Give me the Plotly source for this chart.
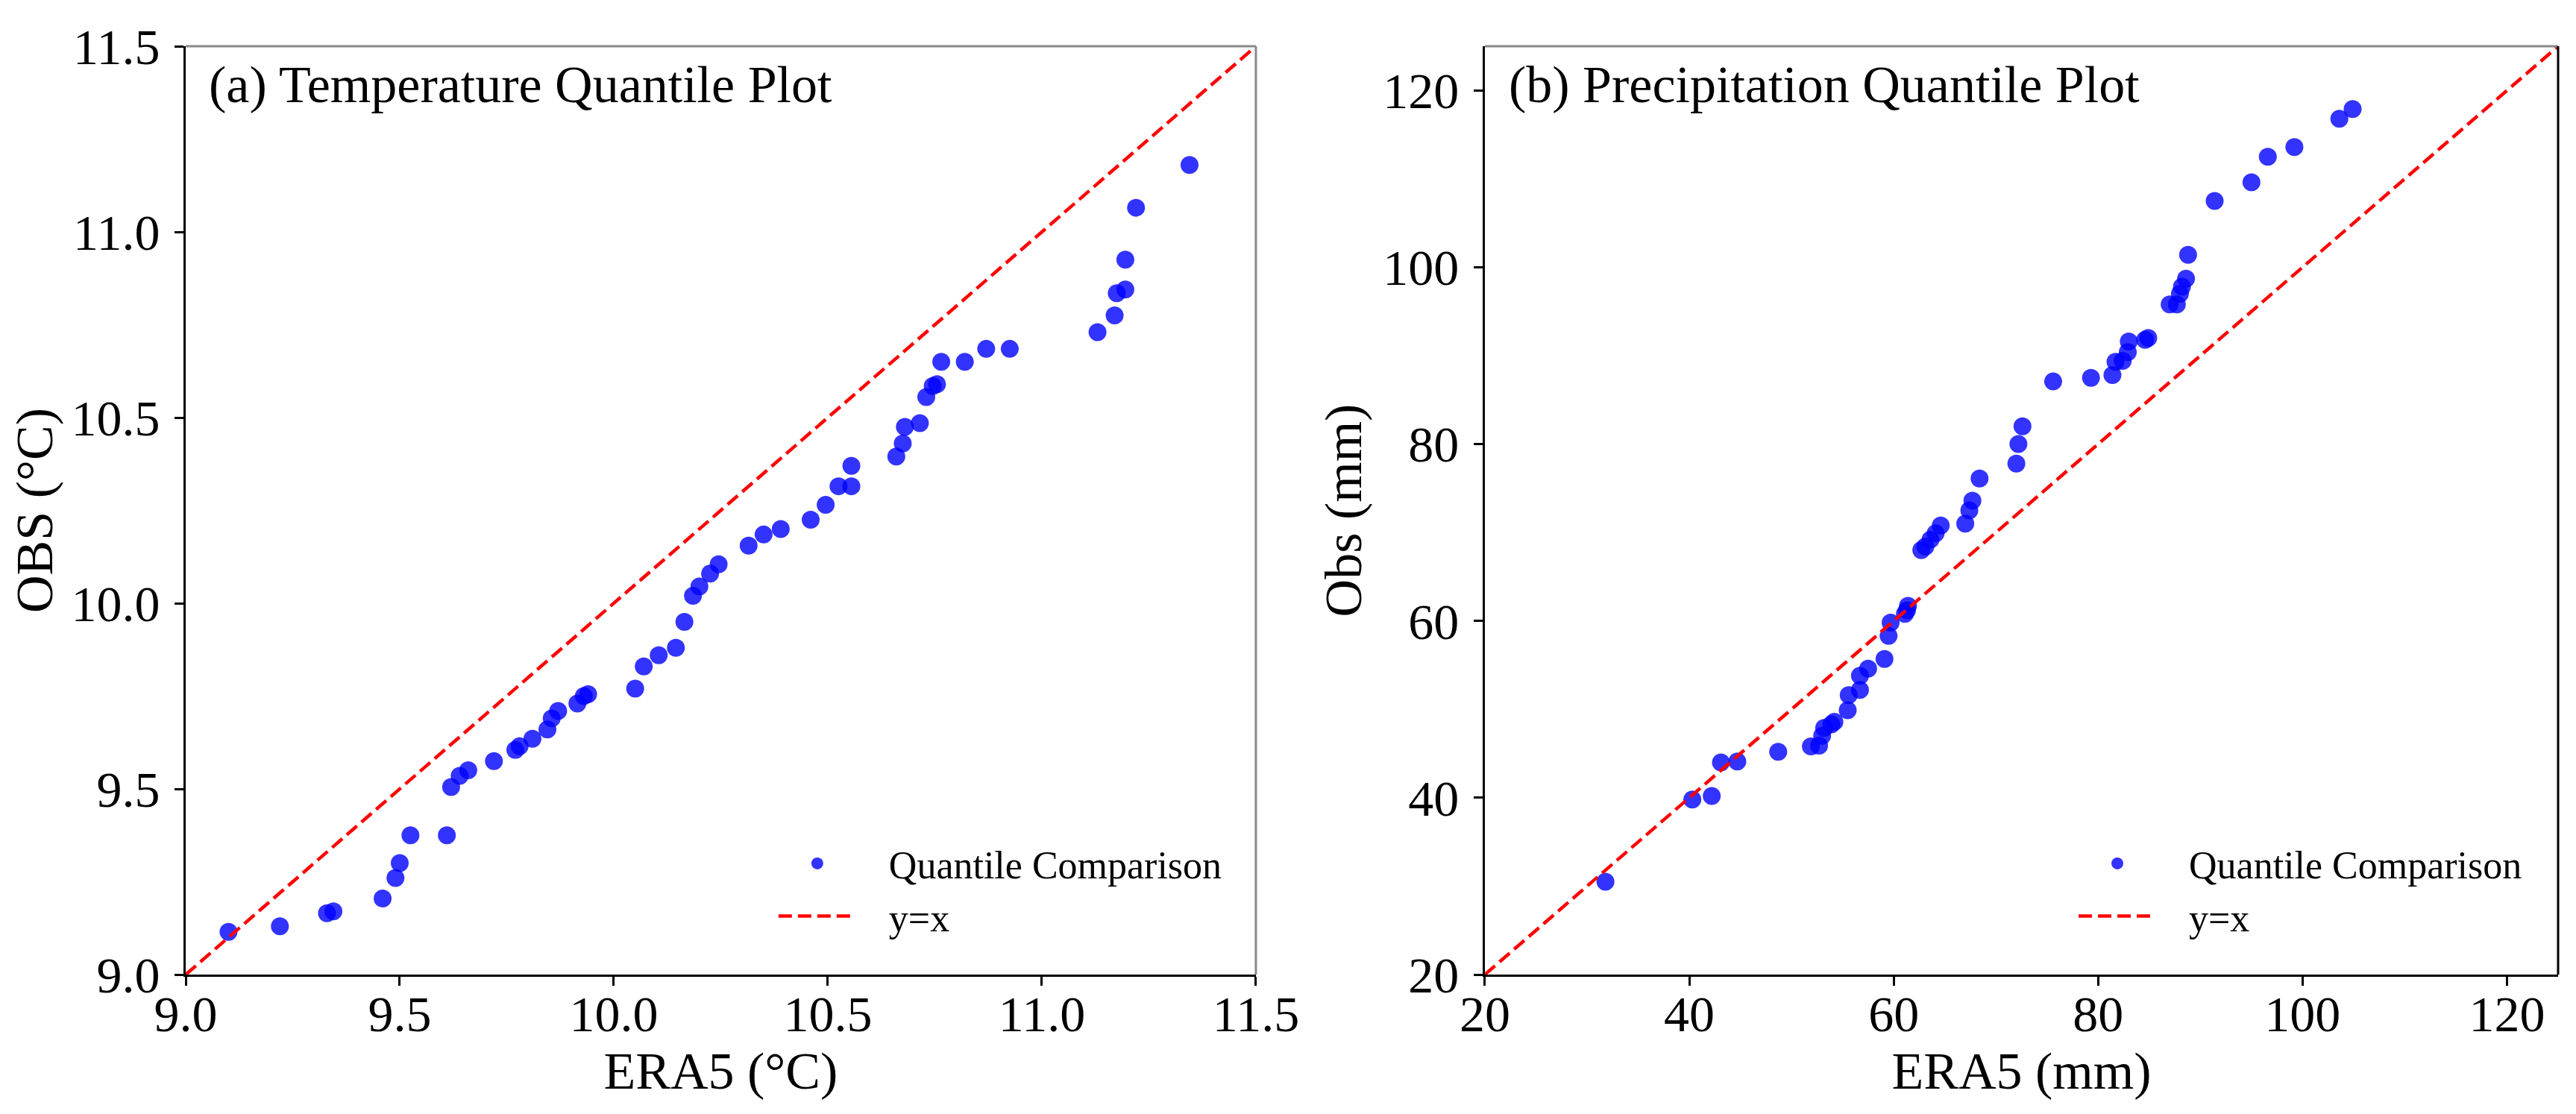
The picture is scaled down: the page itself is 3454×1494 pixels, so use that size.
import plotly.graph_objects as go

# (a) temperature quantiles, deg C
temp_era5 = [9.10, 9.22, 9.33, 9.345, 9.46, 9.49, 9.50, 9.525, 9.61, 9.62,
             9.64, 9.66, 9.72, 9.77, 9.78, 9.81, 9.845, 9.855, 9.87, 9.915,
             9.93, 9.94, 10.05, 10.07, 10.105, 10.145, 10.165, 10.185, 10.20, 10.225,
             10.245, 10.315, 10.35, 10.39, 10.46, 10.495, 10.525, 10.555, 10.555, 10.66,
             10.675, 10.68, 10.715, 10.73, 10.745, 10.755, 10.765, 10.82, 10.87, 10.925,
             11.13, 11.17, 11.175, 11.195, 11.195, 11.22, 11.345]
temp_obs = [9.115, 9.13, 9.165, 9.17, 9.205, 9.26, 9.30, 9.375, 9.375, 9.505,
            9.535, 9.55, 9.575, 9.605, 9.615, 9.635, 9.66, 9.69, 9.71, 9.73,
            9.75, 9.755, 9.77, 9.83, 9.86, 9.88, 9.95, 10.02, 10.045, 10.08,
            10.105, 10.155, 10.185, 10.20, 10.225, 10.265, 10.315, 10.315, 10.37, 10.395,
            10.43, 10.475, 10.485, 10.555, 10.585, 10.59, 10.65, 10.65, 10.685, 10.685,
            10.73, 10.775, 10.835, 10.845, 10.925, 11.065, 11.18]

# (b) precipitation quantiles, mm
prec_era5 = [31.8, 40.3, 42.2, 43.1, 44.7, 48.7, 51.9, 52.7, 53.0, 53.2,
             53.9, 54.2, 55.5, 55.6, 56.7, 56.7, 57.5, 59.1, 59.5, 59.7,
             61.1, 61.3, 61.4, 62.7, 63.1, 63.6, 64.1, 64.6, 67.0, 67.4,
             67.7, 68.4, 72.0, 72.2, 72.6, 75.6, 79.3, 81.4, 81.7, 82.4,
             82.9, 83.0, 84.6, 84.9, 87.0, 87.7, 88.0, 88.2, 88.6, 88.8,
             91.4, 95.0, 96.6, 99.2, 103.6, 104.9]
prec_obs = [30.5, 39.8, 40.2, 44.0, 44.1, 45.2, 45.8, 45.9, 47.0, 47.9,
            48.3, 48.6, 49.9, 51.6, 52.2, 53.8, 54.6, 55.7, 58.3, 59.8,
            60.8, 61.2, 61.7, 68.0, 68.4, 69.2, 69.9, 70.8, 71.0, 72.5,
            73.6, 76.1, 77.8, 80.0, 82.0, 87.1, 87.5, 87.8, 89.3, 89.4,
            90.4, 91.6, 91.8, 92.0, 95.8, 95.8, 97.0, 97.8, 98.7, 101.4,
            107.5, 109.6, 112.5, 113.6, 116.8, 117.9]

temp_range = [9.0, 11.5]
prec_range = [20, 125]
temp_ticks = [9.0, 9.5, 10.0, 10.5, 11.0, 11.5]
prec_ticks = [20, 40, 60, 80, 100, 120]

FONT = "Times New Roman, Liberation Serif, serif"
DOT = "rgba(0,0,255,0.8)"
GAP = "\u00a0\u00a0\u00a0"  # pushes legend text away from its symbol

fig = go.Figure()

panels = [
    (temp_era5, temp_obs, temp_range, "x", "y", "legend"),
    (prec_era5, prec_obs, prec_range, "x2", "y2", "legend2"),
]
for xs, ys, rng, xa, ya, lg in panels:
    fig.add_trace(go.Scatter(
        x=xs, y=ys, mode="markers", name=GAP + "Quantile Comparison",
        marker=dict(color=DOT, size=24, line=dict(width=0)),
        xaxis=xa, yaxis=ya, legend=lg))
    fig.add_trace(go.Scatter(
        x=rng, y=rng, mode="lines", name=GAP + "y=x",
        line=dict(color="red", width=4.5, dash="18px,8px"),
        xaxis=xa, yaxis=ya, legend=lg))

axis_style = dict(
    showgrid=False, zeroline=False, showline=True, linecolor="black",
    linewidth=3, ticks="outside", ticklen=12, tickwidth=2.5, tickcolor="black",
    tickfont=dict(family=FONT, size=68, color="black"), automargin=False,
)
x_style = dict(axis_style, ticklabelstandoff=-21)
y_style = dict(axis_style, ticklabelstandoff=6)
title_font = dict(family=FONT, size=70, color="black")
legend_font = dict(family=FONT, size=52, color="black")

# page body keeps an 8px margin, so the figure is 16px smaller than the window
fig.update_layout(
    width=3438, height=1478,
    margin=dict(l=241, r=16, t=54, b=179),
    paper_bgcolor="white", plot_bgcolor="white",
    font=dict(family=FONT, color="black"),
    xaxis=dict(domain=[0, 0.4511], range=temp_range, tickvals=temp_ticks,
               ticktext=[f"{t:.1f}" for t in temp_ticks],
               title=dict(text="ERA5 (°C)", font=title_font, standoff=0),
               anchor="y", **x_style),
    yaxis=dict(domain=[0, 1], range=temp_range, tickvals=temp_ticks,
               ticktext=[f"{t:.1f}" for t in temp_ticks],
               title=dict(text="OBS (°C)", font=title_font, standoff=24),
               anchor="x", **y_style),
    xaxis2=dict(domain=[0.5476, 1], range=prec_range, tickvals=prec_ticks,
                title=dict(text="ERA5 (mm)", font=title_font, standoff=0),
                anchor="y2", **x_style),
    yaxis2=dict(domain=[0, 1], range=prec_range, tickvals=prec_ticks,
                title=dict(text="Obs (mm)", font=title_font, standoff=6),
                anchor="x2", **y_style),
    legend=dict(x=0.2483, y=0.030, xanchor="left", yanchor="bottom",
                bgcolor="rgba(0,0,0,0)", itemwidth=104, font=legend_font),
    legend2=dict(x=0.7963, y=0.030, xanchor="left", yanchor="bottom",
                 bgcolor="rgba(0,0,0,0)", itemwidth=104, font=legend_font),
    showlegend=True,
)

# panel titles
fig.add_annotation(text="(a) Temperature Quantile Plot", xref="x domain", yref="y domain",
                   x=0.02, y=0.9586, xanchor="left", yanchor="middle", showarrow=False,
                   font=dict(family=FONT, size=70, color="black"))
fig.add_annotation(text="(b) Precipitation Quantile Plot", xref="x2 domain", yref="y2 domain",
                   x=0.021, y=0.9586, xanchor="left", yanchor="middle", showarrow=False,
                   font=dict(family=FONT, size=70, color="black"))

# top/right frame edges
for xa, ya, right_col in [("x", "y", "#888888"), ("x2", "y2", "black")]:
    fig.add_shape(type="line", xref=f"{xa} domain", yref=f"{ya} domain",
                  x0=0, x1=1, y0=1, y1=1, line=dict(color="#888888", width=3))
    fig.add_shape(type="line", xref=f"{xa} domain", yref=f"{ya} domain",
                  x0=1, x1=1, y0=0, y1=1, line=dict(color=right_col, width=3))

fig.write_html("out.html")
